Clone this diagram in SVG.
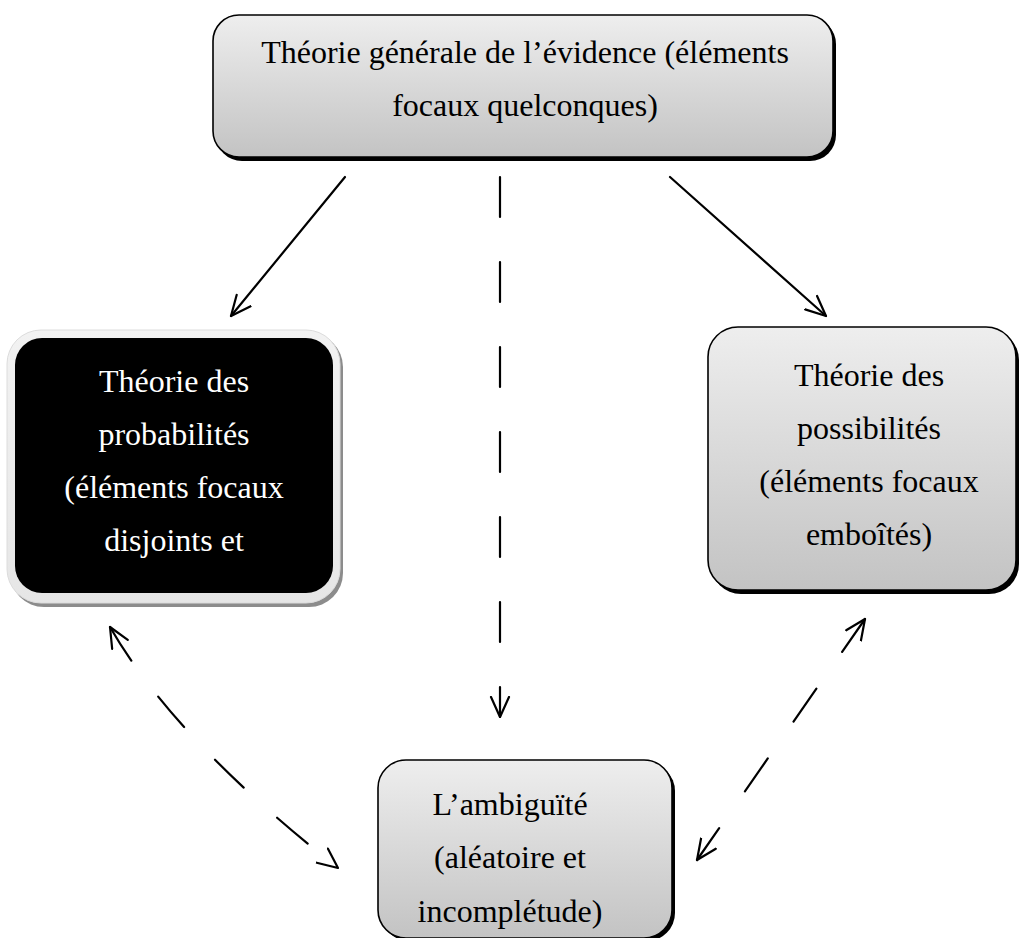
<svg xmlns="http://www.w3.org/2000/svg" width="1019" height="938" viewBox="0 0 1019 938">
  <defs>
    <linearGradient id="greyFill" x1="0" y1="0" x2="0" y2="1">
      <stop offset="0" stop-color="#eeeeee"/>
      <stop offset="1" stop-color="#c3c3c3"/>
    </linearGradient>
    <linearGradient id="rimFill" x1="0" y1="0" x2="0" y2="1">
      <stop offset="0" stop-color="#f2f2f2"/>
      <stop offset="1" stop-color="#e6e6e6"/>
    </linearGradient>
    <marker id="head" markerUnits="userSpaceOnUse" viewBox="0 0 22 22" refX="21" refY="11" markerWidth="22" markerHeight="22" orient="auto-start-reverse">
      <path d="M1,2 L21,11 L1,20" fill="none" stroke="#000" stroke-width="2.2" stroke-dasharray="none" stroke-linecap="round" stroke-linejoin="round"/>
    </marker>
  </defs>
  <style>
    .box { fill: url(#greyFill); stroke: #000; stroke-width: 1.6; }
    .shadow { fill: #000; }
    .lbl { font-family: "Liberation Serif", "Times New Roman", serif; font-size: 32px; text-anchor: middle; fill: #000; }
    .lbl.inv { fill: #fff; }
    .link { fill: none; stroke: #000; stroke-width: 2.2; stroke-linecap: round; }
    .dash { stroke-dasharray: 40 45; }
  </style>
  <rect width="1019" height="938" fill="#fff"/>

  <g id="connectors">
    <line class="link" x1="345" y1="177" x2="231" y2="316" marker-end="url(#head)"/>
    <line class="link" x1="670" y1="177" x2="826" y2="316" marker-end="url(#head)"/>
    <line class="link dash" x1="500" y1="177" x2="500" y2="717" marker-end="url(#head)"/>
    <path class="link dash" d="M110,627 Q175,740 338,868" marker-start="url(#head)" marker-end="url(#head)"/>
    <line class="link dash" x1="865" y1="619" x2="697" y2="860" marker-start="url(#head)" marker-end="url(#head)"/>
  </g>

  <g id="node-evidence">
    <rect class="shadow" x="216" y="18" width="620" height="143" rx="26"/>
    <rect class="box" x="213" y="15" width="620" height="142" rx="26"/>
    <text class="lbl" x="525" y="63">Théorie générale de l’évidence (éléments</text>
    <text class="lbl" x="525" y="116">focaux quelconques)</text>
  </g>

  <g id="node-probabilites">
    <rect x="10" y="333" width="333" height="274" rx="34" fill="#8c8c8c"/>
    <rect x="7" y="330" width="333" height="273" rx="34" fill="url(#rimFill)" stroke="#dcdcdc" stroke-width="1"/>
    <rect x="15" y="338" width="318" height="255" rx="27" fill="#000"/>
    <text class="lbl inv" x="174" y="392">Théorie des</text>
    <text class="lbl inv" x="174" y="445">probabilités</text>
    <text class="lbl inv" x="174" y="498">(éléments focaux</text>
    <text class="lbl inv" x="174" y="551">disjoints et</text>
  </g>

  <g id="node-possibilites">
    <rect class="shadow" x="711" y="330" width="308" height="264" rx="30"/>
    <rect class="box" x="708" y="327" width="308" height="263" rx="30"/>
    <text class="lbl" x="869" y="386">Théorie des</text>
    <text class="lbl" x="869" y="439">possibilités</text>
    <text class="lbl" x="869" y="492">(éléments focaux</text>
    <text class="lbl" x="869" y="545">emboîtés)</text>
  </g>

  <g id="node-ambiguite">
    <rect class="shadow" x="381" y="763" width="294" height="178" rx="28"/>
    <rect class="box" x="378" y="760" width="294" height="178" rx="28"/>
    <text class="lbl" x="510" y="815">L’ambiguïté</text>
    <text class="lbl" x="510" y="868">(aléatoire et</text>
    <text class="lbl" x="510" y="922">incomplétude)</text>
  </g>
</svg>
